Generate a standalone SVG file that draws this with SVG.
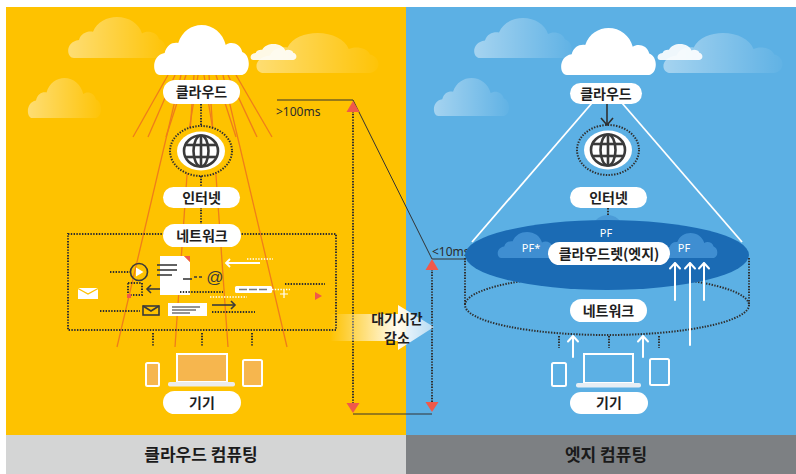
<svg xmlns="http://www.w3.org/2000/svg" xmlns:xlink="http://www.w3.org/1999/xlink" width="796" height="474" viewBox="0 0 796 474">
  <defs>
    <style>
      .pill { fill: #ffffff; }
      .lbl { font-family: "Noto Sans CJK KR", "Noto Sans", sans-serif; font-weight: 700; font-size: 14px; fill: #1e1e1e; text-anchor: middle; }
      .title { font-family: "Noto Sans CJK KR", "Noto Sans", sans-serif; font-weight: 700; font-size: 17px; fill: #1a1a1a; text-anchor: middle; }
      .ms { font-family: "Noto Sans", "Liberation Sans", sans-serif; font-size: 12px; fill: #2b2b2b; }
      .pf { font-family: "Noto Sans", "Liberation Sans", sans-serif; font-size: 11px; fill: #ffffff; text-anchor: middle; }
      .dot { fill: none; stroke: #2f2f2f; stroke-width: 2; stroke-dasharray: 1.4 1.4; }
      .dotw { fill: none; stroke: #ffffff; stroke-width: 1.4; stroke-dasharray: 1.4 1.4; }
      .ray { stroke: #ef7d1a; stroke-width: 1.3; fill: none; }
      .guide { stroke: #333333; stroke-width: 1; fill: none; }
      .tri { fill: #f0594a; }
      .wline { stroke: #ffffff; stroke-width: 1.8; fill: none; }
      .warrow { stroke: #ffffff; stroke-width: 2; fill: none; stroke-linecap: round; stroke-linejoin: round; }
      .globe { fill: none; stroke: #3a3a3a; stroke-width: 2.6; }
      .devY { fill: #f6b64e; stroke: #ffffff; stroke-width: 2; }
      .devB { fill: #5cb0e4; stroke: #ffffff; stroke-width: 2; }
      .ink { stroke: #3a3a3a; stroke-width: 1.6; fill: none; }
    </style>
    <symbol id="cloud" viewBox="0 0 100 50" preserveAspectRatio="none">
      <path d="M 7 50 C -1 50 -2 30 12 28 C 14 20 20 17 26 18 C 30 6 40 0 50 0 C 62 0 72 8 75 20 C 80 16 90 18 92 27 C 101 30 101 48 92 50 Z"/>
    </symbol>
    <linearGradient id="fade" x1="0" y1="0" x2="1" y2="0">
      <stop offset="0" stop-color="#ffffff" stop-opacity="0.45"/>
      <stop offset="1" stop-color="#ffffff" stop-opacity="0.03"/>
    </linearGradient>
    <linearGradient id="reduce" x1="330" y1="0" x2="434" y2="0" gradientUnits="userSpaceOnUse">
      <stop offset="0" stop-color="#ffffff" stop-opacity="0"/>
      <stop offset="0.65" stop-color="#ffffff" stop-opacity="0.95"/>
      <stop offset="1" stop-color="#ffffff" stop-opacity="0.55"/>
    </linearGradient>
    <clipPath id="cloudletClip"><ellipse cx="607" cy="255" rx="142" ry="35"/></clipPath>
  </defs>

  <!-- backgrounds -->
  <rect x="0" y="0" width="796" height="474" fill="#ffffff"/>
  <rect x="6" y="7" width="400" height="428" fill="#fec200"/>
  <rect x="406" y="7" width="390" height="428" fill="#5cb0e4"/>
  <rect x="6" y="435" width="400" height="39" fill="#d4d5d5"/>
  <rect x="406" y="435" width="390" height="39" fill="#7d8083"/>
  <text class="title" x="201" y="461">클라우드 컴퓨팅</text>
  <text class="title" x="606" y="461">엣지 컴퓨팅</text>

  <!-- sky, cloud computing side -->
  <g id="sky-left">
    <use href="#cloud" x="67" y="17" width="100" height="41" fill="url(#fade)"/>
    <use href="#cloud" x="27" y="78" width="75" height="40" fill="url(#fade)"/>
    <use href="#cloud" x="255" y="33" width="125" height="40" fill="url(#fade)"/>
    <use href="#cloud" x="250" y="44" width="47" height="16" fill="#ffffff" opacity="0.9"/>
  </g>

  <!-- light rays under the central cloud -->
  <g id="rays">
    <line class="ray" x1="168" y1="75" x2="133" y2="137"/>
    <line class="ray" x1="175" y1="75" x2="148" y2="137"/>
    <line class="ray" x1="186" y1="75" x2="166" y2="137"/>
    <line class="ray" x1="198" y1="75" x2="188" y2="137"/>
    <line class="ray" x1="204" y1="75" x2="214" y2="137"/>
    <line class="ray" x1="216" y1="75" x2="236" y2="137"/>
    <line class="ray" x1="228" y1="75" x2="257" y2="137"/>
    <line class="ray" x1="236" y1="75" x2="272" y2="137"/>
    <line class="ray" x1="181" y1="75" x2="117" y2="347"/>
    <line class="ray" x1="194" y1="75" x2="175" y2="347"/>
    <line class="ray" x1="209" y1="75" x2="228" y2="347"/>
    <line class="ray" x1="223" y1="75" x2="287" y2="347"/>
  </g>

  <!-- connectors -->
  <g id="connectors">
    <!-- left stack -->
    <line class="dot" x1="201" y1="104" x2="201" y2="125"/>
    <line class="dot" x1="201" y1="176" x2="201" y2="187"/>
    <line class="dot" x1="201" y1="207" x2="201" y2="224"/>
    <line class="dot" x1="153" y1="333" x2="153" y2="347"/>
    <line class="dot" x1="202" y1="333" x2="202" y2="347"/>
    <line class="dot" x1="252" y1="333" x2="252" y2="347"/>
    <!-- latency guides -->
    <text class="ms" x="276" y="116">&gt;100ms</text>
    <polyline class="guide" points="277,100 353,100 432,259 466,259"/>
    <line class="guide" x1="353" y1="414" x2="432" y2="414"/>
    <line class="dot" x1="353" y1="111" x2="353" y2="404"/>
    <line class="dot" x1="432" y1="269" x2="432" y2="403"/>
    <polygon class="tri" points="353,101 346.5,112 359.5,112"/>
    <polygon class="tri" points="346.5,403 359.5,403 353,413"/>
    <polygon class="tri" points="432,259 425.5,270 438.5,270"/>
    <polygon class="tri" points="425.5,402 438.5,402 432,412"/>
    <text class="ms" x="432" y="256">&lt;10ms</text>
    <!-- right stack -->
    <line class="wline" x1="592" y1="103" x2="472" y2="242"/>
    <line class="wline" x1="622" y1="103" x2="742" y2="242"/>
    <line stroke="#2f2f2f" stroke-width="1.6" x1="607" y1="104" x2="607" y2="125"/>
    <polyline fill="none" stroke="#2f2f2f" stroke-width="1.6" points="601,118 607,125 613,118"/>
    <line class="dot" x1="608" y1="208" x2="608" y2="220"/>
  </g>

  <!-- latency reduction arrow -->
  <g id="latency-reduction">
    <polygon fill="url(#reduce)" points="330,314 398,314 398,305 434,327 398,350 398,341 330,341"/>
    <text class="lbl" x="397" y="324" font-size="12">대기시간</text>
    <text class="lbl" x="397" y="343" font-size="12">감소</text>
  </g>

  <!-- cloud computing side -->
  <g id="cloud-left">
    <use href="#cloud" x="153" y="25" width="97" height="50" fill="#ffffff"/>
    <rect class="pill" x="163" y="80" width="77" height="24" rx="12"/>
    <text class="lbl" x="201.5" y="97">클라우드</text>
  </g>

  <g id="internet-left">
    <ellipse cx="201" cy="151" rx="31" ry="25" fill="#fec200" stroke="#2f2f2f" stroke-width="2" stroke-dasharray="1.4 1.4"/>
    <ellipse cx="201" cy="151" rx="24" ry="19.5" fill="#ffffff"/>
    <g transform="translate(201 151)">
      <ellipse class="globe" rx="17" ry="15.5"/>
      <ellipse class="globe" rx="7.5" ry="15.5"/>
      <line class="globe" x1="0" y1="-15.5" x2="0" y2="15.5"/>
      <line class="globe" x1="-15" y1="-6" x2="15" y2="-6"/>
      <line class="globe" x1="-15" y1="6" x2="15" y2="6"/>
    </g>
    <rect class="pill" x="163" y="187" width="77" height="21" rx="10.5"/>
    <text class="lbl" x="201.5" y="202.5">인터넷</text>
  </g>

  <g id="network-left">
    <rect class="dot" x="68" y="234" width="268" height="96"/>
    <!-- traffic icons -->
    <path d="M 78 288 h 20 v 11 h -20 Z" fill="#ffffff"/>
    <polyline points="78,288.5 88,294 98,288.5" fill="none" stroke="#fec200" stroke-width="1.4"/>
    <line class="dot" x1="110" y1="272" x2="130" y2="272" stroke-width="1.2"/>
    <circle cx="139" cy="272" r="8.5" class="ink" stroke-width="2"/>
    <polygon points="136,267.5 136,276.5 143.5,272" fill="#ffffff"/>
    <rect x="128" y="283" width="14" height="12" class="dot" stroke-width="1.2"/>
    <rect x="127" y="294" width="4" height="4" fill="#f0594a"/>
    <line class="ink" x1="165" y1="289" x2="147" y2="289"/>
    <polyline class="ink" points="151,285 147,289 151,293"/>
    <path d="M 160 256 h 24 l 6 6 v 33 h -30 Z" fill="#ffffff"/>
    <polygon points="184,256 190,256 190,262" fill="#f0594a"/>
    <line class="ink" x1="157" y1="265" x2="177" y2="265"/>
    <line class="ink" x1="157" y1="270" x2="177" y2="270"/>
    <line class="ink" x1="157" y1="275" x2="172" y2="275"/>
    <line class="ink" x1="183" y1="279" x2="192" y2="279"/>
    <line class="ink" x1="194" y1="277" x2="203" y2="277" stroke-dasharray="3 2"/>
    <text x="215" y="283" font-family="Liberation Sans, sans-serif" font-size="17" fill="#3a3a3a" text-anchor="middle">@</text>
    <line class="dot" x1="180" y1="292" x2="223" y2="292" stroke-width="1.2"/>
    <line class="dotw" x1="247" y1="259" x2="273" y2="259"/>
    <line class="wline" x1="260" y1="263" x2="226" y2="263" stroke-width="1.5"/>
    <polyline class="wline" stroke-width="1.5" points="230,259 226,263 230,267"/>
    <rect x="235" y="286" width="37" height="7" rx="1.5" fill="#ffffff"/>
    <line x1="239" y1="289.5" x2="267" y2="289.5" stroke="#7a7a7a" stroke-width="1.5" stroke-dasharray="8 2"/>
    <line class="dotw" x1="272" y1="289.5" x2="290" y2="289.5"/>
    <path d="M 284 290 v 8 M 280 294 h 8" stroke="#ffffff" stroke-width="1.2" fill="none"/>
    <line class="dot" x1="285" y1="284" x2="325" y2="284" stroke-width="1.2"/>
    <polygon points="315,292 315,300 322,296" fill="#f0594a"/>
    <line class="dotw" x1="210" y1="297" x2="247" y2="297"/>
    <line class="dot" x1="100" y1="311" x2="140" y2="311" stroke-width="1.2"/>
    <rect x="143" y="306" width="16" height="9" class="ink" stroke-width="1.6"/>
    <polyline class="ink" stroke-width="1.2" points="143,306 151,311 159,306"/>
    <rect x="168" y="303" width="39" height="13" fill="#ffffff"/>
    <line x1="172" y1="307" x2="200" y2="307" stroke="#5a5a5a" stroke-width="1.3"/>
    <line x1="172" y1="310" x2="196" y2="310" stroke="#5a5a5a" stroke-width="1.3"/>
    <line x1="172" y1="313" x2="190" y2="313" stroke="#5a5a5a" stroke-width="1.3"/>
    <line class="ink" x1="212" y1="305" x2="235" y2="305"/>
    <polyline class="ink" points="231,301 235,305 231,309"/>
    <line class="dot" x1="212" y1="312" x2="255" y2="312" stroke-width="1.2"/>
    <rect class="pill" x="163" y="224" width="78" height="23" rx="11.5"/>
    <text class="lbl" x="202" y="240.5">네트워크</text>
  </g>

  <g id="devices-left">
    <rect class="devY" x="146" y="363" width="13" height="23" rx="1.5"/>
    <rect class="devY" x="177" y="354" width="50" height="28"/>
    <rect x="168" y="382" width="67" height="4.5" rx="2" fill="#ececec"/>
    <rect class="devY" x="243" y="360" width="19" height="26" rx="1.5"/>
    <rect class="pill" x="163" y="391" width="78" height="23" rx="11.5"/>
    <text class="lbl" x="202" y="407.5">기기</text>
  </g>

  <!-- sky, edge computing side -->
  <g id="sky-right">
    <use href="#cloud" x="473" y="18" width="100" height="40" fill="url(#fade)"/>
    <use href="#cloud" x="433" y="78" width="77" height="38" fill="url(#fade)"/>
    <use href="#cloud" x="662" y="33" width="122" height="40" fill="url(#fade)"/>
    <use href="#cloud" x="657" y="44" width="46" height="16" fill="#ffffff" opacity="0.9"/>
  </g>

  <g id="cloud-right">
    <use href="#cloud" x="560" y="28" width="97" height="47" fill="#ffffff"/>
    <rect class="pill" x="570" y="83" width="72" height="21" rx="10.5"/>
    <text class="lbl" x="606" y="98.5">클라우드</text>
  </g>

  <g id="internet-right">
    <ellipse cx="608" cy="150" rx="31" ry="25" fill="none" stroke="#2f2f2f" stroke-width="2" stroke-dasharray="1.4 1.4"/>
    <ellipse cx="608" cy="150" rx="24" ry="19.5" fill="#ffffff"/>
    <g transform="translate(608 150)">
      <ellipse class="globe" rx="17" ry="15.5"/>
      <ellipse class="globe" rx="7.5" ry="15.5"/>
      <line class="globe" x1="0" y1="-15.5" x2="0" y2="15.5"/>
      <line class="globe" x1="-15" y1="-6" x2="15" y2="-6"/>
      <line class="globe" x1="-15" y1="6" x2="15" y2="6"/>
    </g>
    <rect class="pill" x="570" y="187" width="77" height="21" rx="10.5"/>
    <text class="lbl" x="608.5" y="202.5">인터넷</text>
  </g>

  <g id="network-right">
    <ellipse class="dot" cx="607" cy="305" rx="142" ry="30"/>
    <line class="dot" x1="465" y1="258" x2="465" y2="305"/>
    <line class="dot" x1="749" y1="258" x2="749" y2="305"/>
    <line class="dot" x1="559" y1="336" x2="559" y2="348"/>
    <line class="dot" x1="609" y1="336" x2="609" y2="348"/>
    <line class="dot" x1="659" y1="336" x2="659" y2="348"/>
    <rect class="pill" x="570" y="299" width="77" height="23" rx="11.5"/>
    <text class="lbl" x="608.5" y="315.5">네트워크</text>
  </g>

  <g id="cloudlet">
    <use href="#cloud" x="575" y="215" width="65" height="33" fill="#4b9bd7"/>
    <ellipse cx="607" cy="255" rx="142" ry="35" fill="#1b6bb4"/>
    <use href="#cloud" x="497" y="232" width="60" height="26" fill="#3f8ed1"/>
    <use href="#cloud" x="575" y="215" width="65" height="33" fill="#3f8ed1" clip-path="url(#cloudletClip)"/>
    <use href="#cloud" x="663" y="233" width="55" height="25" fill="#3f8ed1"/>
    <text class="pf" x="531" y="252">PF*</text>
    <text class="pf" x="606" y="237">PF</text>
    <text class="pf" x="684" y="252">PF</text>
    <rect class="pill" x="548" y="242" width="122" height="23" rx="11.5"/>
    <text class="lbl" x="609" y="258.5">클라우드렛(엣지)</text>
  </g>

  <g id="uplinks">
    <path class="warrow" d="M 675 300 V 263 M 670 268.5 L 675 263 L 680 268.5"/>
    <path class="warrow" d="M 690 345 V 263 M 685 268.5 L 690 263 L 695 268.5"/>
    <path class="warrow" d="M 704 300 V 263 M 699 268.5 L 704 263 L 709 268.5"/>
    <path class="warrow" d="M 573 357 V 336 M 568 341.5 L 573 336 L 578 341.5"/>
    <path class="warrow" d="M 643 357 V 336 M 638 341.5 L 643 336 L 648 341.5"/>
  </g>

  <g id="devices-right">
    <rect class="devB" x="552" y="363" width="14" height="23" rx="1.5"/>
    <rect class="devB" x="584" y="354" width="49" height="29"/>
    <rect x="576" y="383" width="65" height="4.5" rx="2" fill="#e6eef4"/>
    <rect class="devB" x="650" y="359" width="19" height="26" rx="1.5"/>
    <rect class="pill" x="570" y="392" width="78" height="22" rx="11"/>
    <text class="lbl" x="609" y="408">기기</text>
  </g>
</svg>
